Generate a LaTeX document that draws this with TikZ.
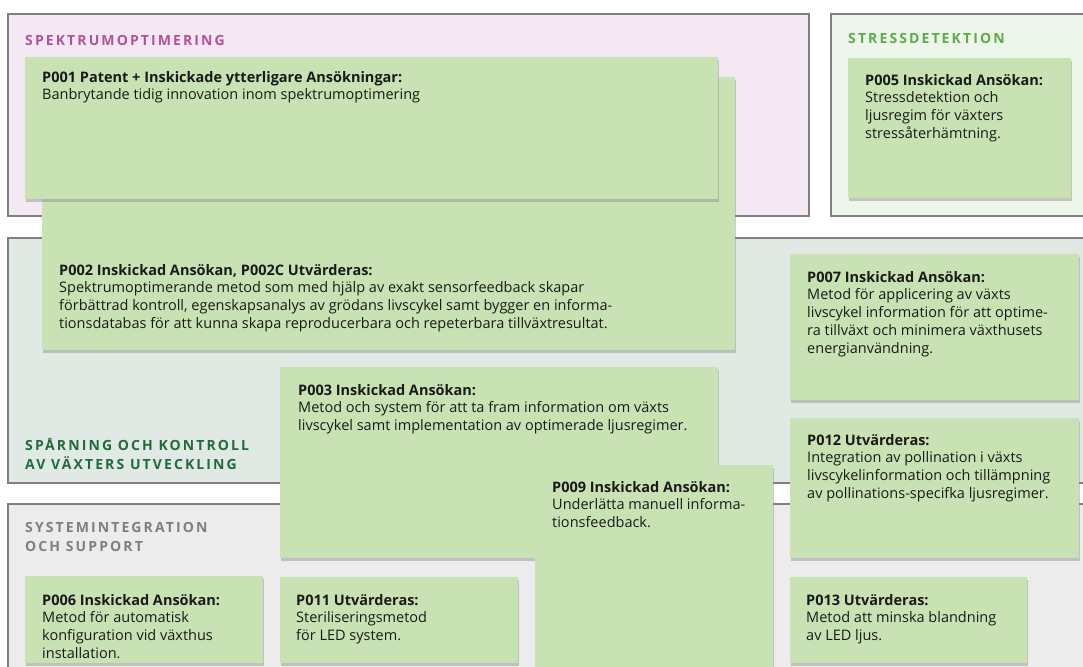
\documentclass[tikz,border=0pt]{standalone}
\usepackage{fontspec}
\setmainfont{Open Sans}
\newfontfamily\headfont[LetterSpace=15]{Open Sans}
\usetikzlibrary{shadows}
\definecolor{cardgreen}{HTML}{C8E2B4}
\definecolor{framegray}{HTML}{808080}
\definecolor{ink}{HTML}{1A1A1A}
\definecolor{spekfill}{HTML}{F4E8F3}
\definecolor{stressfill}{HTML}{EEF5EA}
\definecolor{trackfill}{HTML}{E0E9E3}
\definecolor{sysfill}{HTML}{ECECEC}
\definecolor{spekhead}{HTML}{B4519F}
\definecolor{stresshead}{HTML}{5BAD49}
\definecolor{trackhead}{HTML}{1F6B3C}
\definecolor{syshead}{HTML}{7F7F7F}
\newcommand\hs{\rule{0pt}{14pt}}

\begin{document}
\begin{tikzpicture}[x=1pt, y=-1pt,
  region/.style={draw=framegray, line width=1.4pt},
  card/.style={fill=cardgreen, anchor=north west, inner sep=0pt,
    drop shadow={shadow xshift=1pt, shadow yshift=-2.5pt, opacity=.4}},
  txt/.style={anchor=north west, inner sep=0pt, align=left, text=ink,
    font=\fontsize{14.5}{17.75}\selectfont},
  head/.style={anchor=north west, inner sep=0pt, align=left,
    font=\headfont\bfseries\fontsize{14}{19}\selectfont}]
  \clip (0,0) rectangle (1083,666);

  % areas
  \draw[region, fill=spekfill] (8,14) rectangle (809,216);
  \draw[region, fill=stressfill] (831,14) rectangle (1095,216);
  \draw[region, fill=trackfill] (8,238) rectangle (1095,483);
  \draw[region, fill=sysfill] (8,504) rectangle (1095,690);
  \node[head, text=spekhead] (spek) at (25,31) {\hs SPEKTRUMOPTIMERING};
  \node[head, text=stresshead] (stress) at (848,29) {\hs STRESSDETEKTION};
  \node[head, text=trackhead] (track) at (25,436) {\hs SPÅRNING OCH KONTROLL\\AV VÄXTERS UTVECKLING};
  \node[head, text=syshead] (sys) at (25,518) {\hs SYSTEMINTEGRATION\\OCH SUPPORT};

  % patent cards
  \foreach \n/\x/\y/\w/\h in {p002/42/77/693/273, p001/25/57/693/142,
      p005/848/58/223/140, p007/790/254/289/146, p003/280/367/438/191,
      p012/790/418/289/140, p009/535/465/238/210, p006/25/576/238/87,
      p011/280/577/238/86, p013/790/577/237/86}
    \node[card, minimum width=\w pt, minimum height=\h pt] (\n) at (\x,\y) {};

  \node[txt] (p001-t) at ([shift={(17,11)}]p001.north west)
    {\hs\textbf{P001 Patent + Inskickade ytterligare Ansökningar:}\\
     Banbrytande tidig innovation inom spektrumoptimering};
  \node[txt] (p002-t) at ([shift={(17,184)}]p002.north west)
    {\hs\textbf{P002 Inskickad Ansökan, P002C Utvärderas:}\\
     Spektrumoptimerande metod som med hjälp av exakt sensorfeedback skapar\\
     förbättrad kontroll, egenskapsanalys av grödans livscykel samt bygger en informa-\\
     tionsdatabas för att kunna skapa reproducerbara och repeterbara tillväxtresultat.};
  \node[txt] (p005-t) at ([shift={(17,13)}]p005.north west)
    {\hs\textbf{P005 Inskickad Ansökan:}\\
     Stressdetektion och\\ljusregim för växters\\stressåterhämtning.};
  \node[txt] (p007-t) at ([shift={(17,14)}]p007.north west)
    {\hs\textbf{P007 Inskickad Ansökan:}\\
     Metod för applicering av växts\\livscykel information för att optime-\\
     ra tillväxt och minimera växthusets\\energianvändning.};
  \node[txt] (p003-t) at ([shift={(18,14)}]p003.north west)
    {\hs\textbf{P003 Inskickad Ansökan:}\\
     Metod och system för att ta fram information om växts\\
     livscykel samt implementation av optimerade ljusregimer.};
  \node[txt] (p012-t) at ([shift={(17,13)}]p012.north west)
    {\hs\textbf{P012 Utvärderas:}\\
     Integration av pollination i växts\\livscykelinformation och tillämpning\\
     av pollinations-specifka ljusregimer.};
  \node[txt] (p009-t) at ([shift={(17,13)}]p009.north west)
    {\hs\textbf{P009 Inskickad Ansökan:}\\
     Underlätta manuell informa-\\tionsfeedback.};
  \node[txt] (p006-t) at ([shift={(17,15)}]p006.north west)
    {\hs\textbf{P006 Inskickad Ansökan:}\\
     Metod för automatisk\\konfiguration vid växthus\\installation.};
  \node[txt] (p011-t) at ([shift={(16,14)}]p011.north west)
    {\hs\textbf{P011 Utvärderas:}\\
     Steriliseringsmetod\\för LED system.};
  \node[txt] (p013-t) at ([shift={(16,14)}]p013.north west)
    {\hs\textbf{P013 Utvärderas:}\\
     Metod att minska blandning\\av LED ljus.};
\end{tikzpicture}
\end{document}
